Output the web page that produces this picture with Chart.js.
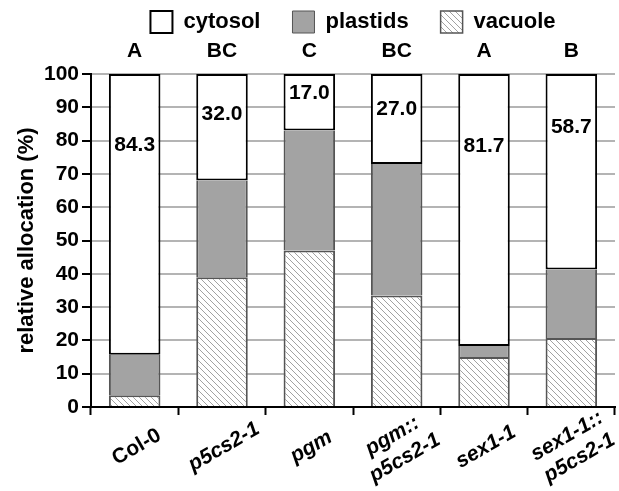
<!DOCTYPE html>
<html><head><meta charset="utf-8">
<script src="https://cdn.jsdelivr.net/npm/chart.js@4"></script>
<style>html,body{margin:0;padding:0;background:#fff}#wrap{width:619px;height:491px}</style>
</head><body><div id="wrap"><canvas id="c" width="619" height="491"></canvas></div>
<script>
// ---- data ----
const categories = [['Col-0'], ['p5cs2-1'], ['pgm'], ['pgm::', 'p5cs2-1'], ['sex1-1'], ['sex1-1::', 'p5cs2-1']];
const italicCategory = [false, true, true, true, true, true];
const vacuole  = [3.5, 39.0, 47.0, 33.5, 15.0, 20.7];
const plastids = [12.2, 29.0, 36.0, 39.5, 3.3, 20.6];
const cytosol  = [84.3, 32.0, 17.0, 27.0, 81.7, 58.7];
const groupLetters = ['A', 'BC', 'C', 'BC', 'A', 'B'];
const yMin = 0, yMax = 100, yStep = 10;

// ---- styles ----
const FONT = '"Liberation Sans", Arial, Helvetica, sans-serif';
Chart.defaults.font.family = FONT;
Chart.defaults.color = '#000';

const canvas = document.getElementById('c');
const mainCtx = canvas.getContext('2d');
function makeHatch() {
  const s = 6;
  const t = document.createElement('canvas');
  t.width = s; t.height = s;
  const g = t.getContext('2d');
  g.fillStyle = '#ffffff'; g.fillRect(0, 0, s, s);
  g.strokeStyle = '#a2a2a2'; g.lineWidth = 1;
  g.beginPath();
  g.moveTo(-1, -1); g.lineTo(s + 1, s + 1);
  g.moveTo(-1, s - 1); g.lineTo(1, s + 1);
  g.moveTo(s - 1, -1); g.lineTo(s + 1, 1);
  g.stroke();
  return mainCtx.createPattern(t, 'repeat');
}
const hatch = makeHatch();

const annotPlugin = {
  id: 'annot',
  afterDatasetsDraw(chart, args, opts) {
    const ctx = chart.ctx, xs = chart.scales.x, ys = chart.scales.y;
    ctx.save();
    ctx.fillStyle = '#000';
    ctx.textAlign = 'center';
    ctx.textBaseline = 'middle';
    categories.forEach((lines, i) => {
      const cx = xs.getPixelForValue(i);
      ctx.font = 'bold 21px ' + FONT;
      ctx.fillText(cytosol[i].toFixed(1), cx, ys.getPixelForValue(opts.valueAt[i]));
      ctx.fillText(groupLetters[i], cx, chart.chartArea.top - opts.letterGap);
      ctx.save();
      ctx.translate(cx + 2, xs.top + opts.labelDrop);
      ctx.rotate(-Math.PI / 6);
      ctx.font = (italicCategory[i] ? 'italic ' : '') + 'bold 21px ' + FONT;
      const n = lines.length;
      lines.forEach((ln, k) => ctx.fillText(ln, 0, (k - (n - 1) / 2) * 25));
      ctx.restore();
    });
    ctx.restore();
  }
};

new Chart(canvas, {
  type: 'bar',
  data: {
    labels: categories,
    datasets: [
      { label: 'vacuole', data: vacuole, backgroundColor: hatch, borderColor: '#555555',
        borderWidth: {top: 2, left: 2, right: 2, bottom: 0}, borderSkipped: false },
      { label: 'plastids', data: plastids, backgroundColor: '#a3a3a3', borderColor: '#555555',
        borderWidth: {top: 0, left: 2, right: 2, bottom: 0}, borderSkipped: false },
      { label: 'cytosol', data: cytosol, backgroundColor: '#ffffff', borderColor: '#000000',
        borderWidth: 2, borderSkipped: false }
    ]
  },
  plugins: [annotPlugin],
  options: {
    responsive: false,
    devicePixelRatio: 1,
    animation: false,
    layout: { padding: { top: -21, left: 0, right: 4, bottom: 0 } },
    datasets: { bar: { categoryPercentage: 1.0, barPercentage: 0.59 } },
    scales: {
      x: {
        stacked: true,
        offset: true,
        grid: { display: true, offset: true, drawOnChartArea: false, drawTicks: true,
                tickLength: 8, tickColor: '#000', tickWidth: 2 },
        border: { display: true, color: '#000', width: 2 },
        ticks: { display: false },
        afterFit: s => { s.height = 84; }
      },
      y: {
        stacked: true,
        min: yMin, max: yMax,
        ticks: { stepSize: yStep, font: { size: 21, weight: 'bold' }, color: '#000', padding: 3 },
        grid: { color: ctx => (ctx.tick && ctx.tick.value === 0) ? '#000' : '#b4b4b4', lineWidth: 2,
                tickColor: '#000', tickWidth: 2, tickLength: 9 },
        border: { display: true, color: '#000', width: 2 },
        title: { display: true, text: 'relative allocation (%)', color: '#000',
                 font: { size: 22, weight: 'bold' }, padding: { top: 14, bottom: 0 } },
        afterFit: s => { s.width = 91; }
      }
    },
    plugins: {
      legend: {
        position: 'top',
        fullSize: false,
        reverse: true,
        labels: { boxWidth: 22, boxHeight: 22, padding: 32, color: '#000',
                  font: { size: 22, weight: 'bold' } }
      },
      title: { display: true, text: '', weight: 500, font: { size: 10, lineHeight: 1 },
               padding: { top: 0, bottom: 21 } },
      tooltip: { enabled: false },
      annot: { valueAt: [78.5, 88.0, 94.2, 89.3, 78.4, 83.9], letterGap: 23, labelDrop: 40 }
    }
  }
});
</script>
</body></html>
